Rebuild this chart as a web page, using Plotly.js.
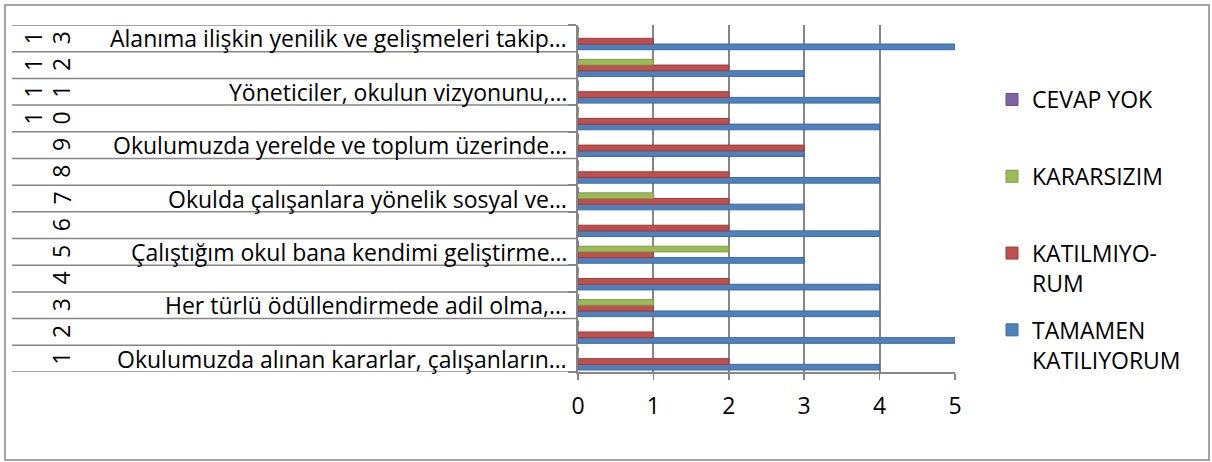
<!DOCTYPE html>
<html>
<head>
<meta charset="utf-8">
<script src="https://cdn.plot.ly/plotly-3.0.1.min.js"></script>
<style>
html,body{margin:0;padding:0;background:#fff;}
#chart{width:1212px;height:462px;}
</style>
</head>
<body>
<div id="chart"></div>
<script>
// ---- data ----
const itemNumbers = [1,2,3,4,5,6,7,8,9,10,11,12,13];
const itemLabels = [
  "Okulumuzda alınan kararlar, çalışanların…",
  "",
  "Her türlü ödüllendirmede adil olma,…",
  "",
  "Çalıştığım okul bana kendimi geliştirme…",
  "",
  "Okulda çalışanlara yönelik sosyal ve…",
  "",
  "Okulumuzda yerelde ve toplum üzerinde…",
  "",
  "Yöneticiler, okulun vizyonunu,…",
  "",
  "Alanıma ilişkin yenilik ve gelişmeleri takip…"
];
const seriesNames = ["TAMAMEN<br>KATILIYORUM", "KATILMIYO-<br>RUM", "KARARSIZIM<br> ", "CEVAP YOK<br> "];
const tamamenKatiliyorum = [4,5,4,4,3,4,3,4,3,4,4,3,5];
const katilmiyorum       = [2,1,1,2,1,2,2,2,3,2,2,2,1];
const kararsizim         = [0,0,1,0,2,0,1,0,0,0,0,1,0];
const cevapYok           = [0,0,0,0,0,0,0,0,0,0,0,0,0];
const xTicks = [0,1,2,3,4,5];

const seriesValues = [tamamenKatiliyorum, katilmiyorum, kararsizim, cevapYok];
const colors = ["#4F81BD", "#C0504D", "#9BBB59", "#8064A2"];
const edges  = ["#3D6A9E", "#9E3B38", "#7E9C44", "#644D86"];

// ---- layout geometry (pixels) ----
const W = 1212, H = 462;
const M = {l: 578, r: 257, t: 25, b: 90};
const pw = W - M.l - M.r, ph = H - M.t - M.b;
const px2x = p => (p - M.l) / pw;
const py2y = p => 1 - (p - M.t) / ph;

const FONT = "'Open Sans', sans-serif";
const FS = 23;
const GRAY = "#868686";

const traces = seriesValues.map((vals, i) => ({
  type: "bar",
  orientation: "h",
  name: seriesNames[i],
  x: vals,
  y: itemNumbers,
  legendgroup: "g" + i,
  legendrank: 100 - i,
  marker: {color: colors[i], line: {color: edges[i], width: 1}},
  hoverinfo: "x+name"
}));

const annotations = [];
const shapes = [];
itemNumbers.forEach((n, i) => {
  if (itemLabels[i]) {
    annotations.push({
      xref: "paper", yref: "y", x: 0, y: n, xanchor: "right", yanchor: "middle",
      xshift: -9, text: itemLabels[i], showarrow: false,
      font: {family: FONT, size: FS, color: "#000"}
    });
  }
  const digits = String(n).split("");
  const cols = digits.length === 2 ? [-545, -517] : [-517];
  digits.forEach((d, k) => {
    annotations.push({
      xref: "paper", yref: "y", x: 0, y: n, xanchor: "center", yanchor: "middle",
      xshift: cols[k], text: d, textangle: -90, showarrow: false,
      font: {family: FONT, size: FS, color: "#000"}
    });
  });
});
// category divider lines in the label area
for (let k = 0; k <= itemNumbers.length; k++) {
  const yb = itemNumbers[0] - 0.5 + k;
  shapes.push({
    type: "line", xref: "paper", yref: "y", x0: px2x(12), x1: 0, y0: yb, y1: yb,
    line: {color: GRAY, width: 1.5}
  });
}
// outer chart border
shapes.push({
  type: "rect", xref: "paper", yref: "paper",
  x0: px2x(5), x1: px2x(1209), y0: py2y(460), y1: py2y(5),
  line: {color: GRAY, width: 1.5}, fillcolor: "rgba(0,0,0,0)", layer: "below"
});

const layout = {
  width: W, height: H,
  margin: M,
  paper_bgcolor: "#fff", plot_bgcolor: "#fff",
  barmode: "group", bargap: 0.15, bargroupgap: 0,
  font: {family: FONT, size: FS, color: "#000"},
  showlegend: true,
  legend: {
    x: px2x(992), xanchor: "left", y: py2y(78), yanchor: "top",
    traceorder: "grouped", tracegroupgap: 14, valign: "top",
    font: {family: FONT, size: FS, color: "#000"}, bgcolor: "rgba(0,0,0,0)"
  },
  xaxis: {
    range: [0, 5], tickvals: xTicks, ticktext: xTicks.map(String),
    showgrid: true, gridcolor: GRAY, gridwidth: 2,
    zeroline: false, showline: true, linecolor: GRAY, linewidth: 2,
    ticks: "outside", ticklen: 6, tickcolor: GRAY, tickwidth: 1.5,
    ticklabelstandoff: 6,
    tickfont: {family: FONT, size: FS, color: "#000"}, fixedrange: true
  },
  yaxis: {
    range: [itemNumbers[0] - 0.5, itemNumbers[itemNumbers.length - 1] + 0.5],
    tickvals: itemNumbers.map(n => n - 0.5).concat([itemNumbers[itemNumbers.length - 1] + 0.5]),
    showticklabels: false, showgrid: false, zeroline: false,
    showline: true, linecolor: GRAY, linewidth: 2,
    ticks: "outside", ticklen: 8, tickcolor: GRAY, tickwidth: 1.5, fixedrange: true
  },
  annotations: annotations,
  shapes: shapes
};

Plotly.newPlot("chart", traces, layout, {displayModeBar: false, staticPlot: true});
</script>
</body>
</html>
